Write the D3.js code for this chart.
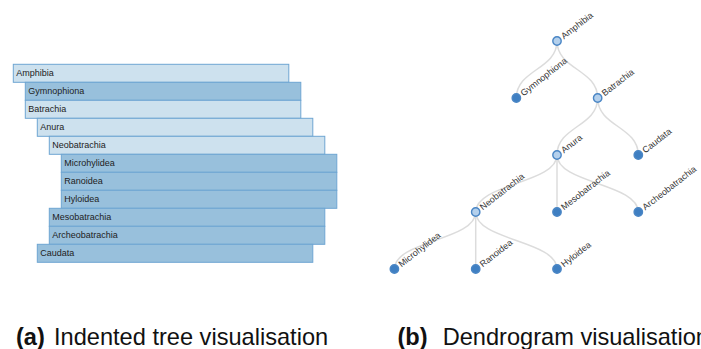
<!DOCTYPE html>
<html>
<head>
<meta charset="utf-8">
<script src="https://cdn.jsdelivr.net/npm/d3@7"></script>
<style>
  html, body { margin: 0; padding: 0; background: #fff; }
  svg { display: block; }
  .caption { font-family: "Liberation Sans", Arial, Helvetica, sans-serif; font-size: 23.6px; fill: #111; }
  .small { font-family: "Liberation Sans", Arial, Helvetica, sans-serif; font-size: 9px; }
</style>
</head>
<body>
<svg id="chart" width="701" height="349"></svg>
<script>
// Amphibian taxonomy: each taxon and its parent (preorder)
const taxa    = ["Amphibia", "Gymnophiona", "Batrachia", "Anura", "Neobatrachia",
                 "Microhylidea", "Ranoidea", "Hyloidea", "Mesobatrachia",
                 "Archeobatrachia", "Caudata"];
const parents = ["", "Amphibia", "Amphibia", "Batrachia", "Anura",
                 "Neobatrachia", "Neobatrachia", "Neobatrachia", "Anura",
                 "Anura", "Batrachia"];

// Panel captions
const captionTags  = ["(a)", "(b)"];
const captionTexts = ["Indented tree visualisation", "Dendrogram visualisation"];

const svg = d3.select("#chart");

function buildRoot() {
  return d3.stratify()
    .id((d, i) => taxa[i])
    .parentId((d, i) => parents[i] || null)(taxa);
}

// ---------- (a) indented tree ----------
{
  const root = buildRoot();
  const nodes = [];
  root.eachBefore(d => nodes.push(d)); // preorder rows
  const barH = 18, indent = 12, barW = 275.5;
  const x = d3.scaleLinear().domain([0, 1]).range([13.3, 13.3 + indent]);
  const y = d3.scaleBand().domain(nodes.map(d => d.id)).range([64.3, 64.3 + barH * nodes.length]);

  const g = svg.append("g");
  const row = g.selectAll("g.row").data(nodes).join("g")
    .attr("class", "row")
    .attr("transform", d => `translate(${x(d.depth)},${y(d.id)})`);

  row.append("rect")
    .attr("width", barW)
    .attr("height", y.bandwidth())
    .attr("fill", d => d.children ? "#cde1ee" : "#98c0dc")
    .attr("stroke", "#6fa6d2")
    .attr("stroke-width", 1);

  row.append("text")
    .attr("class", "small")
    .attr("x", 3)
    .attr("y", y.bandwidth() / 2)
    .attr("dy", "0.35em")
    .attr("fill", "#222")
    .text(d => d.id);
}

// ---------- (b) dendrogram ----------
{
  const root = buildRoot();
  d3.tree().nodeSize([81.3, 57])(root);
  const g = svg.append("g").attr("transform", "translate(557,41)");

  g.selectAll("path.link").data(root.links()).join("path")
    .attr("class", "link")
    .attr("fill", "none")
    .attr("stroke", "#dcdcdc")
    .attr("stroke-width", 1.5)
    .attr("d", d3.linkVertical().x(d => d.x).y(d => d.y));

  const node = g.selectAll("g.node").data(root.descendants()).join("g")
    .attr("class", "node")
    .attr("transform", d => `translate(${d.x},${d.y})`);

  node.append("circle")
    .attr("r", 4.2)
    .attr("fill", d => d.children ? "#b4d0ec" : "#3f7fc2")
    .attr("stroke", "#4a86c5")
    .attr("stroke-width", 1.4);

  node.append("text")
    .attr("class", "small")
    .attr("transform", "rotate(-38)")
    .attr("x", 6.5)
    .attr("dy", "0.35em")
    .attr("fill", "#333")
    .text(d => d.id);
}

// ---------- captions ----------
const capPos = [{tag: 16, text: 54}, {tag: 397.5, text: 442.7}];
captionTags.forEach((tag, i) => {
  const t = svg.append("text").attr("class", "caption").attr("y", 344.5);
  t.append("tspan").attr("x", capPos[i].tag).attr("font-weight", "bold").text(tag);
  t.append("tspan").attr("x", capPos[i].text).text(captionTexts[i]);
});
</script>
</body>
</html>
